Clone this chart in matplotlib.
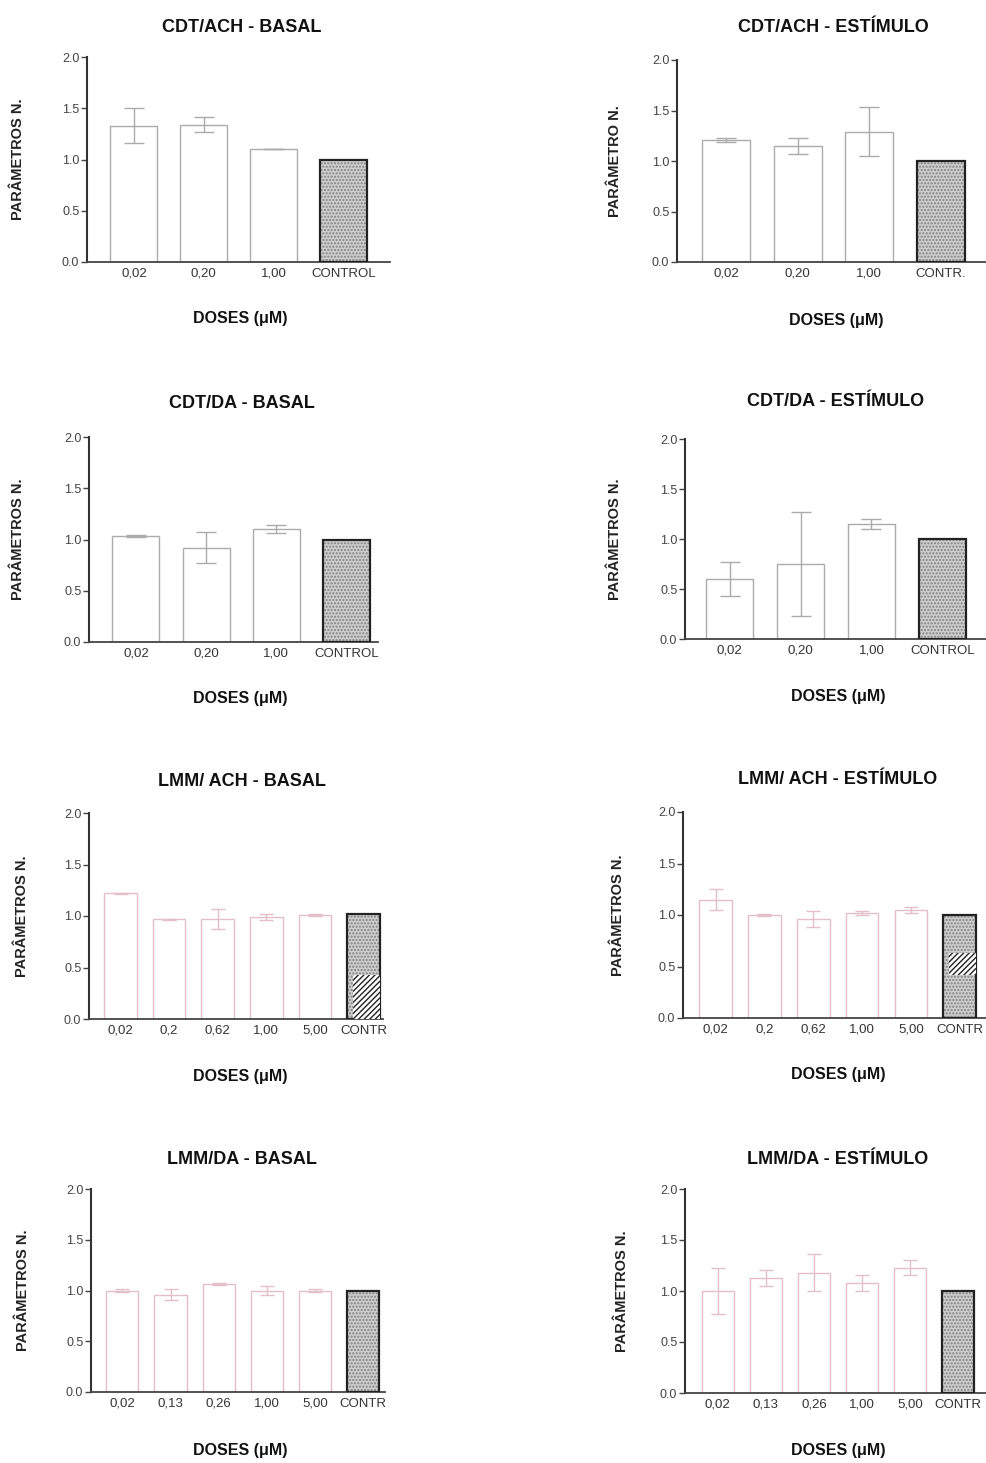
import numpy as np
import matplotlib.pyplot as plt

plt.rcParams['font.family'] = ['Liberation Sans', 'DejaVu Sans']

titles = ["CDT/ACH - BASAL", "CDT/ACH - ESTÍMULO",
          "CDT/DA - BASAL", "CDT/DA - ESTÍMULO",
          "LMM/ ACH - BASAL", "LMM/ ACH - ESTÍMULO",
          "LMM/DA - BASAL", "LMM/DA - ESTÍMULO"]
ylabels = ["PARÂMETROS N.", "PARÂMETRO N.", "PARÂMETROS N.", "PARÂMETROS N.",
           "PARÂMETROS N.", "PARÂMETROS N.", "PARÂMETROS N.", "PARÂMETROS N."]

doses_cdt_basal = ["0,02", "0,20", "1,00", "CONTROL"]
doses_cdt_ach_est = ["0,02", "0,20", "1,00", "CONTR."]
doses_lmm_ach = ["0,02", "0,2", "0,62", "1,00", "5,00", "CONTR"]
doses_lmm_da = ["0,02", "0,13", "0,26", "1,00", "5,00", "CONTR"]

cdt_ach_basal = [1.33, 1.34, 1.10, 1.00]
cdt_ach_basal_err = [0.17, 0.07, 0.0, 0.0]
cdt_ach_est = [1.21, 1.15, 1.29, 1.00]
cdt_ach_est_err = [0.02, 0.08, 0.24, 0.0]
cdt_da_basal = [1.03, 0.92, 1.10, 1.00]
cdt_da_basal_err = [0.01, 0.15, 0.04, 0.0]
cdt_da_est = [0.60, 0.75, 1.15, 1.00]
cdt_da_est_err = [0.17, 0.52, 0.05, 0.0]
lmm_ach_basal = [1.22, 0.97, 0.97, 0.99, 1.01, 1.02]
lmm_ach_basal_err = [0.005, 0.005, 0.10, 0.03, 0.01, 0.0]
lmm_ach_est = [1.15, 1.00, 0.96, 1.02, 1.05, 1.00]
lmm_ach_est_err = [0.10, 0.005, 0.08, 0.02, 0.03, 0.0]
lmm_da_basal = [1.00, 0.96, 1.06, 1.00, 1.00, 1.00]
lmm_da_basal_err = [0.01, 0.05, 0.01, 0.04, 0.01, 0.0]
lmm_da_est = [1.00, 1.13, 1.18, 1.08, 1.23, 1.00]
lmm_da_est_err = [0.23, 0.08, 0.18, 0.08, 0.07, 0.0]

# hatched patch seen inside the control bar (low, high) or None
hatch_spans = [None, None, None, None, (0.0, 0.43), (0.42, 0.63), None, None]

panels = [
    (doses_cdt_basal, cdt_ach_basal, cdt_ach_basal_err),
    (doses_cdt_ach_est, cdt_ach_est, cdt_ach_est_err),
    (doses_cdt_basal, cdt_da_basal, cdt_da_basal_err),
    (doses_cdt_basal, cdt_da_est, cdt_da_est_err),
    (doses_lmm_ach, lmm_ach_basal, lmm_ach_basal_err),
    (doses_lmm_ach, lmm_ach_est, lmm_ach_est_err),
    (doses_lmm_da, lmm_da_basal, lmm_da_basal_err),
    (doses_lmm_da, lmm_da_est, lmm_da_est_err),
]

# pixel boxes: x0, x1, ytop, ybot
W, H = 987, 1463
boxes = [(87, 390, 57, 262), (677, 987, 60, 262),
         (89, 378, 437, 642), (685, 987, 439, 639),
         (89, 383, 813, 1019), (683, 987, 812, 1018),
         (91, 385, 1189, 1392), (685, 987, 1189, 1393)]
xlims = [(-0.67, 3.66), (-0.69, 3.65), (-0.67, 3.45), (-0.63, 3.63),
         (-0.65, 5.4), (-0.67, 5.56), (-0.65, 5.45), (-0.68, 5.6)]
ylab_x = [18, 615, 18, 615, 22, 618, 23, 622]
title_x = [242, 833, 242, 836, 242, 838, 242, 838]
title_y = [27, 27, 403, 402, 782, 780, 1159, 1159]
xlab_y = [318, 320, 698, 696, 1077, 1075, 1450, 1450]
xlab_x = [240, 836, 240, 838, 240, 838, 240, 838]

fig = plt.figure(figsize=(W / 100, H / 100), dpi=100)
fig.patch.set_facecolor('white')

for i, (doses, vals, errs) in enumerate(panels):
    x0, x1, yt, yb = boxes[i]
    ax = fig.add_axes([x0 / W, 1 - yb / H, (x1 - x0) / W, (yb - yt) / H])
    n = len(doses)
    xs = np.arange(n)
    edge = '#ababab' if i < 4 else '#e4bfc9'
    # dose bars
    ax.bar(xs[:-1], vals[:-1], width=0.67, color='white', edgecolor=edge,
           linewidth=1.0, zorder=2)
    ax.errorbar(xs[:-1], vals[:-1], yerr=errs[:-1], fmt='none', ecolor=edge,
                elinewidth=1.0, capsize=7 if n == 4 else 5, capthick=1.0, zorder=3)
    # control bar
    ax.bar(xs[-1], vals[-1], width=0.67, color='#cdcdcd', edgecolor='#808080',
           hatch='.....', linewidth=0, zorder=2)
    ax.bar(xs[-1], vals[-1], width=0.67, fill=False, edgecolor='#222222',
           linewidth=1.6, zorder=3)
    if hatch_spans[i] is not None:
        lo, hi = hatch_spans[i]
        ax.bar(xs[-1] + 0.06, hi - lo, bottom=lo, width=0.55, color='white',
               edgecolor='#222222', hatch='//////', linewidth=0, zorder=3)

    ax.set_xlim(*xlims[i])
    ax.set_ylim(0, 2.0)
    ax.set_yticks([0.0, 0.5, 1.0, 1.5, 2.0])
    ax.set_yticklabels(['0.0', '0.5', '1.0', '1.5', '2.0'])
    ax.set_xticks(xs)
    ax.set_xticklabels(doses)
    ax.tick_params(axis='y', direction='out', length=4, width=1.0,
                   labelsize=9, colors='#444444', pad=1.5)
    ax.tick_params(axis='x', length=0, labelsize=9.5, colors='#333333', pad=4)
    for s in ['top', 'right']:
        ax.spines[s].set_visible(False)
    ax.spines['left'].set_color('#333333')
    ax.spines['left'].set_linewidth(1.5)
    ax.spines['bottom'].set_color('#444444')
    ax.spines['bottom'].set_linewidth(1.3)
    ax.patch.set_alpha(0)

    fig.text(title_x[i] / W, 1 - title_y[i] / H, titles[i], ha='center',
             va='center', fontsize=13, fontweight='bold', color='#111111')
    fig.text(xlab_x[i] / W, 1 - xlab_y[i] / H, "DOSES (μM)", ha='center',
             va='center', fontsize=11.5, fontweight='bold', color='#111111')
    fig.text(ylab_x[i] / W, 1 - ((yt + yb) / 2) / H, ylabels[i], rotation=90,
             ha='center', va='center', fontsize=10.5, fontweight='bold',
             color='#222222')

fig.savefig('out.png', dpi=100, facecolor='white')
